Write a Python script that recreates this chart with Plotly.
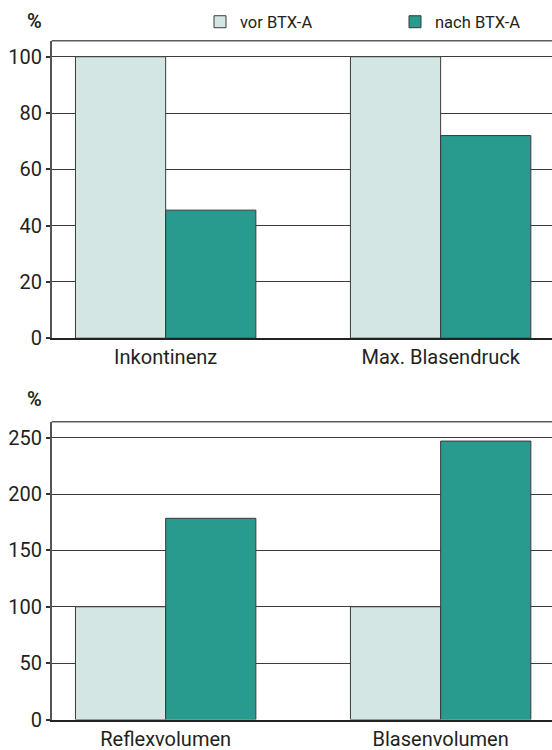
import plotly.graph_objects as go

# ---- data ----
cats_top = ["Inkontinenz", "Max. Blasendruck"]
vor_top = [100, 100]
nach_top = [45.5, 72]

cats_bot = ["Reflexvolumen", "Blasenvolumen"]
vor_bot = [100, 100]
nach_bot = [178.5, 247]

series_names = ["vor BTX-A", "nach BTX-A"]
ticks_top = [0, 20, 40, 60, 80, 100]
ticks_bot = [0, 50, 100, 150, 200, 250]

# ---- style ----
W, H = 552, 750
C_VOR = "#D3E6E3"
C_NACH = "#289A8E"
C_EDGE = "#3a3a3a"
C_TXT = "#231F20"
FONT = "Roboto"

def py(px):
    return 1 - px / H

left = 51.7 / W

fig = go.Figure()
fig.add_trace(go.Bar(x=cats_top, y=vor_top, name=series_names[0], marker=dict(color=C_VOR, line=dict(color=C_EDGE, width=1)),
                     xaxis="x", yaxis="y", legendgroup="v"))
fig.add_trace(go.Bar(x=cats_top, y=nach_top, name=series_names[1], marker=dict(color=C_NACH, line=dict(color=C_EDGE, width=1)),
                     xaxis="x", yaxis="y", legendgroup="n"))
fig.add_trace(go.Bar(x=cats_bot, y=vor_bot, name=series_names[0], marker=dict(color=C_VOR, line=dict(color=C_EDGE, width=1)),
                     xaxis="x2", yaxis="y2", showlegend=False, legendgroup="v"))
fig.add_trace(go.Bar(x=cats_bot, y=nach_bot, name=series_names[1], marker=dict(color=C_NACH, line=dict(color=C_EDGE, width=1)),
                     xaxis="x2", yaxis="y2", showlegend=False, legendgroup="n"))

xcommon = dict(type="category", range=[-0.4145, 1.405], showline=True, linecolor="#222", linewidth=2,
               ticks="", showgrid=False, tickfont=dict(family=FONT, size=20, color=C_TXT), automargin=False,
               fixedrange=True)
ycommon = dict(showline=True, linecolor="#555", linewidth=1.5, ticks="outside", ticklen=4, tickcolor="#333",
               tickwidth=1.5, showgrid=True, gridcolor="#3c3c3c", gridwidth=1, zeroline=False,
               tickfont=dict(family=FONT, size=20, color=C_TXT), automargin=False, fixedrange=True)

fig.update_layout(
    width=W, height=H,
    margin=dict(l=0, r=0, t=0, b=0, autoexpand=False),
    paper_bgcolor="white", plot_bgcolor="white",
    barmode="group", bargap=0.344, bargroupgap=0,
    xaxis=dict(domain=[left, 1], anchor="y", **xcommon),
    yaxis=dict(domain=[py(338.2), py(40.7)], anchor="x", range=[0, 105.7], tickvals=ticks_top, **ycommon),
    xaxis2=dict(domain=[left, 1], anchor="y2", **xcommon),
    yaxis2=dict(domain=[py(719.5), py(421.7)], anchor="x2", range=[0, 264.2], tickvals=ticks_bot, **ycommon),
    legend=dict(orientation="h", xref="container", yref="container", x=200 / W, xanchor="left",
                y=py(22), yanchor="middle",
                font=dict(family=FONT, size=16.5, color=C_TXT), entrywidth=150, entrywidthmode="pixels",
                bgcolor="rgba(0,0,0,0)"),
    font=dict(family=FONT, color=C_TXT),
    showlegend=True,
)

for yref in ["y domain", "y2 domain"]:
    xref = "x domain" if yref == "y domain" else "x2 domain"
    fig.add_shape(type="line", xref=xref, yref=yref, x0=0, x1=1, y0=1, y1=1,
                  line=dict(color="#5a5a5a", width=1.5))

for ypix in [21, 399]:
    fig.add_annotation(text="%", xref="paper", yref="paper", x=34.5 / W, y=py(ypix), xanchor="center",
                       yanchor="middle", showarrow=False,
                       font=dict(family=FONT, size=20, color=C_TXT, weight=600))

fig.write_html("out.html")
